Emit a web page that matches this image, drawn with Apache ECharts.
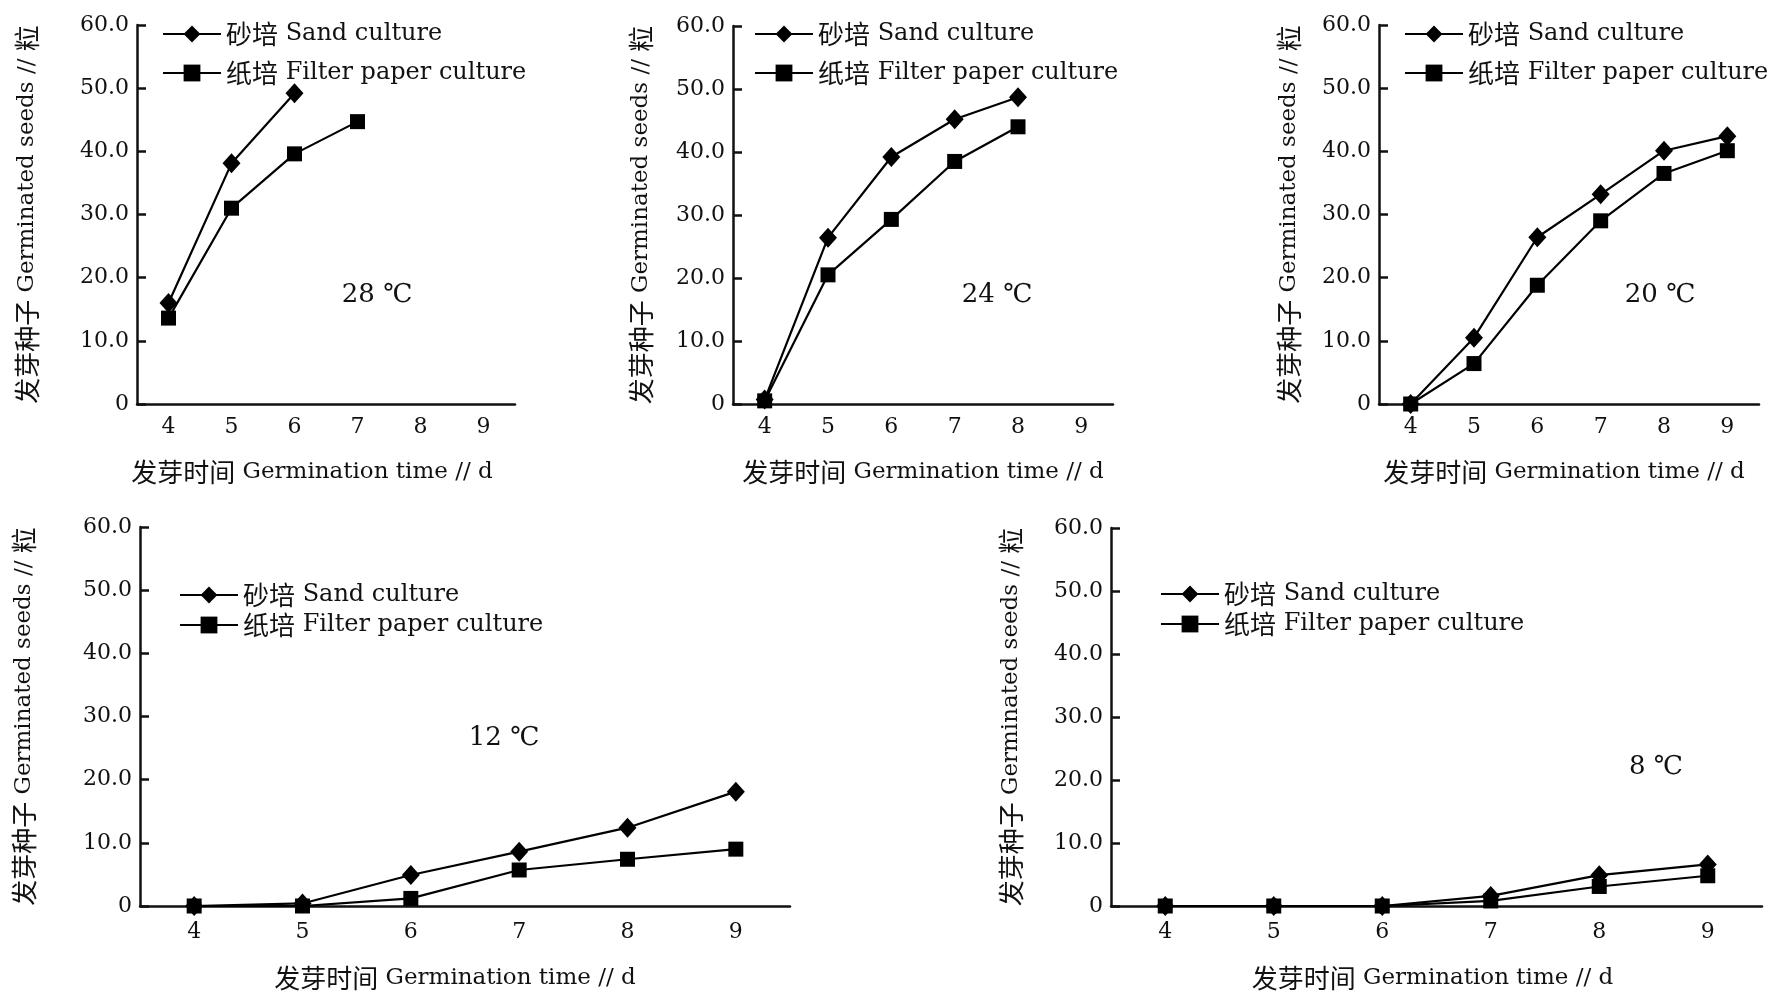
<!DOCTYPE html>
<html>
<head>
<meta charset="utf-8">
<script src="https://cdn.jsdelivr.net/npm/echarts@6/dist/echarts.min.js"></script>
<style>
  html, body { margin: 0; padding: 0; background: #fff; }
  #chart { width: 1781px; height: 992px; }
</style>
</head>
<body>
<div id="chart"></div>
<script>
// Germinated seeds per day, sand culture vs filter paper culture, at five temperatures
const days = ['4', '5', '6', '7', '8', '9'];
const seriesNames = ['砂培 Sand culture', '纸培 Filter paper culture'];
const tempLabels = ['28 ℃', '24 ℃', '20 ℃', '12 ℃', '8 ℃'];
const yMax = 60;
const yStep = 10;

const sand28 = [16.0, 38.1, 49.2, null, null, null];
const paper28 = [13.6, 31.0, 39.6, 44.7, null, null];
const sand24 = [0.7, 26.4, 39.2, 45.2, 48.7, null];
const paper24 = [0.5, 20.5, 29.3, 38.5, 44.0, null];
const sand20 = [0, 10.5, 26.4, 33.2, 40.1, 42.4];
const paper20 = [0, 6.4, 18.8, 29.0, 36.5, 40.1];
const sand12 = [0, 0.4, 4.9, 8.6, 12.4, 18.1];
const paper12 = [0, 0, 1.2, 5.7, 7.4, 9.0];
const sand8 = [0, 0, 0, 1.6, 4.9, 6.6];
const paper8 = [0, 0, 0, 0.8, 3.1, 4.8];

const sandSets = [sand28, sand24, sand20, sand12, sand8];
const paperSets = [paper28, paper24, paper20, paper12, paper8];

// panel geometry (pixels)
const panels = [
  { left: 137, top: 25, width: 378, height: 379, yGap: 97, xGap: 55, lblMargin: 12, xShift: -14,
    legend: { left: 162, top: 19, gap: 9 }, tempAt: [377, 295] },
  { left: 733, top: 26, width: 380, height: 378, yGap: 79, xGap: 55, lblMargin: 12, xShift: 0,
    legend: { left: 754, top: 19, gap: 9 }, tempAt: [997, 295] },
  { left: 1379, top: 25, width: 380, height: 379, yGap: 77, xGap: 55, lblMargin: 12, xShift: -5,
    legend: { left: 1404, top: 19, gap: 9 }, tempAt: [1660, 295] },
  { left: 140, top: 527, width: 650, height: 379, yGap: 103, xGap: 59, lblMargin: 15, xShift: -10,
    legend: { left: 179, top: 580, gap: 0 }, tempAt: [504, 738] },
  { left: 1111, top: 528, width: 651, height: 378, yGap: 87, xGap: 59, lblMargin: 15, xShift: -4,
    legend: { left: 1160, top: 579, gap: 0 }, tempAt: [1656, 767] }
];

const LATIN = "'DejaVu Serif', 'Liberation Serif', serif";
const CJK = "'Noto Sans CJK SC', sans-serif";
const richText = {
  cn: { fontFamily: CJK, fontSize: 26, color: '#111' },
  en: { fontFamily: LATIN, fontSize: 23, color: '#111' },
  enL: { fontFamily: LATIN, fontSize: 24, color: '#111' }
};

const grid = [], xAxis = [], yAxis = [], series = [], legend = [], graphic = [];

panels.forEach((p, i) => {
  grid.push({ left: p.left, top: p.top, width: p.width, height: p.height, containLabel: false });

  xAxis.push({
    type: 'category',
    gridIndex: i,
    data: days,
    boundaryGap: true,
    axisLine: { lineStyle: { color: '#111', width: 2.5 } },
    axisTick: { inside: true, length: 7, alignWithLabel: false, lineStyle: { color: '#111', width: 2.5 } },
    axisLabel: { margin: p.lblMargin, color: '#111', fontFamily: LATIN, fontSize: 22 },
    splitLine: { show: false },
    name: '{cn|发芽时间} {en|Germination time // d}',
    nameLocation: 'middle',
    nameGap: p.xGap,
    nameTextStyle: {
      fontFamily: LATIN, fontSize: 23, color: '#111', rich: richText,
      padding: p.xShift < 0 ? [0, -2 * p.xShift, 0, 0] : 0
    }
  });

  yAxis.push({
    type: 'value',
    gridIndex: i,
    min: 0,
    max: yMax,
    interval: yStep,
    axisLine: { show: true, lineStyle: { color: '#111', width: 2.5 } },
    axisTick: { show: true, inside: true, length: 9, lineStyle: { color: '#111', width: 2.5 } },
    axisLabel: {
      margin: 8, color: '#111', fontFamily: LATIN, fontSize: 22,
      formatter: v => (v === 0 ? '0' : v.toFixed(1))
    },
    splitLine: { show: false },
    name: '{cn|发芽种子} {en|Germinated seeds //} {cn|粒}',
    nameLocation: 'middle',
    nameRotate: 90,
    nameGap: p.yGap,
    nameTextStyle: { fontFamily: LATIN, fontSize: 23, color: '#111', rich: richText }
  });

  series.push({
    type: 'line',
    name: seriesNames[0],
    xAxisIndex: i,
    yAxisIndex: i,
    data: sandSets[i],
    symbol: 'diamond',
    symbolSize: [18, 20],
    connectNulls: false,
    itemStyle: { color: '#000' },
    lineStyle: { color: '#000', width: 2.2 }
  });
  series.push({
    type: 'line',
    name: seriesNames[1],
    xAxisIndex: i,
    yAxisIndex: i,
    data: paperSets[i],
    symbol: 'rect',
    symbolSize: 15,
    connectNulls: false,
    itemStyle: { color: '#000' },
    lineStyle: { color: '#000', width: 2.2 }
  });

  legend.push({
    orient: 'vertical',
    left: p.legend.left,
    top: p.legend.top,
    itemWidth: 58,
    itemHeight: 21,
    itemGap: p.legend.gap,
    padding: 0,
    data: seriesNames,
    selectedMode: false,
    formatter: name => {
      const k = name.indexOf(' ');
      return '{cn|' + name.slice(0, k) + '} {enL|' + name.slice(k + 1) + '}';
    },
    textStyle: { fontFamily: LATIN, fontSize: 24, lineHeight: 30, color: '#111', rich: richText }
  });

  graphic.push({
    type: 'text',
    x: p.tempAt[0],
    y: p.tempAt[1],
    style: {
      text: tempLabels[i],
      fill: '#111',
      font: "26px 'DejaVu Serif', 'Noto Sans CJK SC', serif",
      textAlign: 'center',
      textVerticalAlign: 'middle'
    }
  });
});

const chart = echarts.init(document.getElementById('chart'), null, { renderer: 'canvas' });
chart.setOption({
  backgroundColor: '#fff',
  animation: false,
  grid, xAxis, yAxis, series, legend, graphic
});
</script>
</body>
</html>
